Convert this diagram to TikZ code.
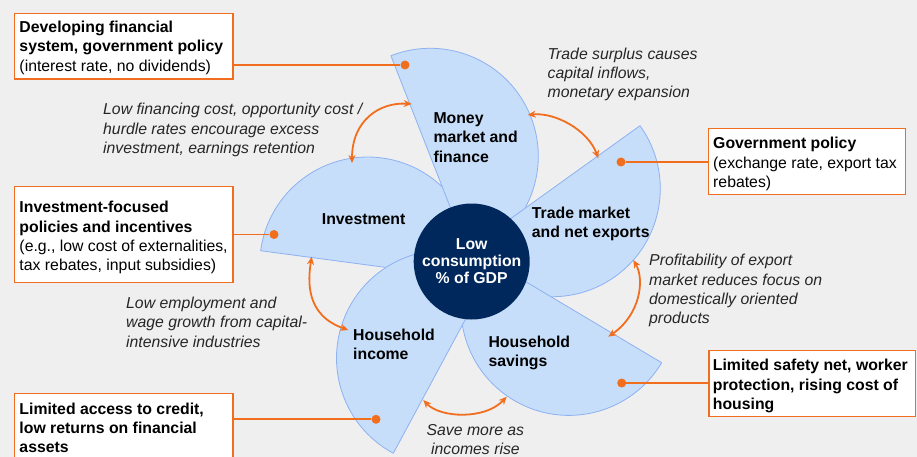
\documentclass[tikz,border=0pt]{standalone}
\usepackage{fontspec}
\setmainfont{Liberation Sans}
\usetikzlibrary{arrows.meta}
\definecolor{bgc}{HTML}{EFEFEF}
\definecolor{petalfill}{HTML}{C6DEF9}
\definecolor{petaledge}{HTML}{8DB1F2}
\definecolor{navy}{HTML}{00285C}
\definecolor{orng}{HTML}{F26E1F}
\definecolor{annot}{HTML}{262626}
\newcommand\drawpetal[2]{\filldraw[petal] (#1) ++(#2:108) arc[start angle=#2, end angle=#2+180, radius=108] -- cycle;}
\begin{document}
\begin{tikzpicture}[x=1pt,y=-1pt,
  petal/.style={fill=petalfill, draw=petaledge, line width=0.8pt, line join=round},
  txt/.style={anchor=north west, inner sep=0pt, align=left, font=\fontsize{15.8}{19.3}\selectfont},
  lbl/.style={txt, font=\fontsize{15.8}{19.3}\selectfont\bfseries},
  note/.style={txt, text=annot, font=\fontsize{15.8}{19.3}\selectfont\itshape},
  boxst/.style={draw=orng, line width=1.4pt, fill=white, inner sep=0pt, anchor=north west},
  dotst/.style={circle, fill=orng, inner sep=0pt, minimum size=9pt},
  conn/.style={draw=orng, line width=1.7pt},
  cyc/.style={draw=orng, line width=1.8pt, {Stealth[length=8pt,width=7pt]}-{Stealth[length=8pt,width=7pt]}},
]
\useasboundingbox (0,0) rectangle (917,457);
\clip (0,0) rectangle (917,457);
\fill[bgc] (0,0) rectangle (917,457);

% petals: investment, money, trade, savings, income
\drawpetal{367.7,265}{-172.4}
\drawpetal{430.3,156.3}{-111.4}
\drawpetal{552.3,188.7}{-35.7}
\drawpetal{568.9,307.4}{30.8}
\drawpetal{444.5,358.2}{118.3}

\node[circle, fill=navy, minimum size=116pt, inner sep=0pt, text=white, align=center,
      font=\fontsize{15.8}{17}\selectfont\bfseries] (core) at (471.7,261.5) {Low\\consumption\\\% of GDP};

\node[lbl] (lmoney) at (433.3,109.85) {\strut Money\\market and\\finance};
\node[lbl] (linv) at (321.7,211.15) {\strut Investment};
\node[lbl] (ltrade) at (531.7,204.85) {\strut Trade market\\and net exports};
\node[lbl] (linc) at (353,326.45) {\strut Household\\income};
\node[lbl] (lsav) at (488.3,333.85) {\strut Household\\savings};

% boxes
\node[boxst, minimum width=218.3pt, minimum height=65.6pt] (b1) at (14,12.7) {};
\node[txt] (t1) at (19.3,18.85) {\strut\textbf{Developing financial}\\\textbf{system, government policy}\\(interest rate, no dividends)};
\node[dotst] (d1) at (405,65) {};
\draw[conn] (b1.east |- d1) -- (d1);

\node[boxst, minimum width=218.3pt, minimum height=96pt] (b2) at (14,186) {};
\node[txt] (t2) at (19.3,199.15) {\strut\textbf{Investment-focused}\\\textbf{policies and incentives}\\(e.g., low cost of externalities,\\tax rebates, input subsidies)};
\node[dotst] (d2) at (274,234.5) {};
\draw[conn] (b2.east |- d2) -- (d2);

\node[boxst, minimum width=197pt, minimum height=66pt] (b3) at (708,128) {};
\node[txt] (t3) at (713,135.15) {\strut\textbf{Government policy}\\(exchange rate, export tax\\rebates)};
\node[dotst] (d3) at (621,162) {};
\draw[conn] (d3) -- (b3.west |- d3);

\node[boxst, minimum width=206.7pt, minimum height=66pt] (b4) at (708.3,350) {};
\node[lbl] (t4) at (712.7,357.15) {\strut Limited safety net, worker\\protection, rising cost of\\housing};
\node[dotst] (d4) at (621.7,383) {};
\draw[conn] (d4) -- (b4.west |- d4);

\node[boxst, minimum width=218.3pt, minimum height=85pt] (b5) at (14,392.7) {};
\node[lbl] (t5) at (19.3,400.45) {\strut Limited access to credit,\\low returns on financial\\assets};
\node[dotst] (d5) at (376,419.3) {};
\draw[conn] (b5.east |- d5) -- (d5);

% annotations
\node[note] (nA) at (103,101.15) {\strut Low financing cost, opportunity cost /\\hurdle rates encourage excess\\investment, earnings retention};
\node[note] (nB) at (547.5,45.45) {\strut Trade surplus causes\\capital inflows,\\monetary expansion};
\node[note] (nC) at (649,252.15) {\strut Profitability of export\\market reduces focus on\\domestically oriented\\products};
\node[note] (nD) at (126,294.85) {\strut Low employment and\\wage growth from capital-\\intensive industries};
\node[note, anchor=north, align=center] (nE) at (475.4,421.45) {\strut Save more as\\incomes rise};

% cycle arrows
\coordinate (a1s) at (352,163); \coordinate (a1e) at (411.7,104);
\draw[cyc] (a1s) .. controls (352,120) and (380,102) .. (a1e);
\coordinate (a2s) at (527.7,115); \coordinate (a2e) at (598.3,158.3);
\draw[cyc] (a2s) .. controls (555,112) and (588,130) .. (a2e);
\coordinate (a3s) at (633.3,260); \coordinate (a3e) at (608.3,336.7);
\draw[cyc] (a3s) .. controls (645,280) and (640,315) .. (a3e);
\coordinate (a4s) at (423.3,400); \coordinate (a4e) at (506.7,396.7);
\draw[cyc] (a4s) .. controls (440,418) and (485,420) .. (a4e);
\coordinate (a5s) at (311.7,256.7); \coordinate (a5e) at (348.3,330);
\draw[cyc] (a5s) .. controls (308,280) and (305,315) .. (a5e);
\end{tikzpicture}
\end{document}
